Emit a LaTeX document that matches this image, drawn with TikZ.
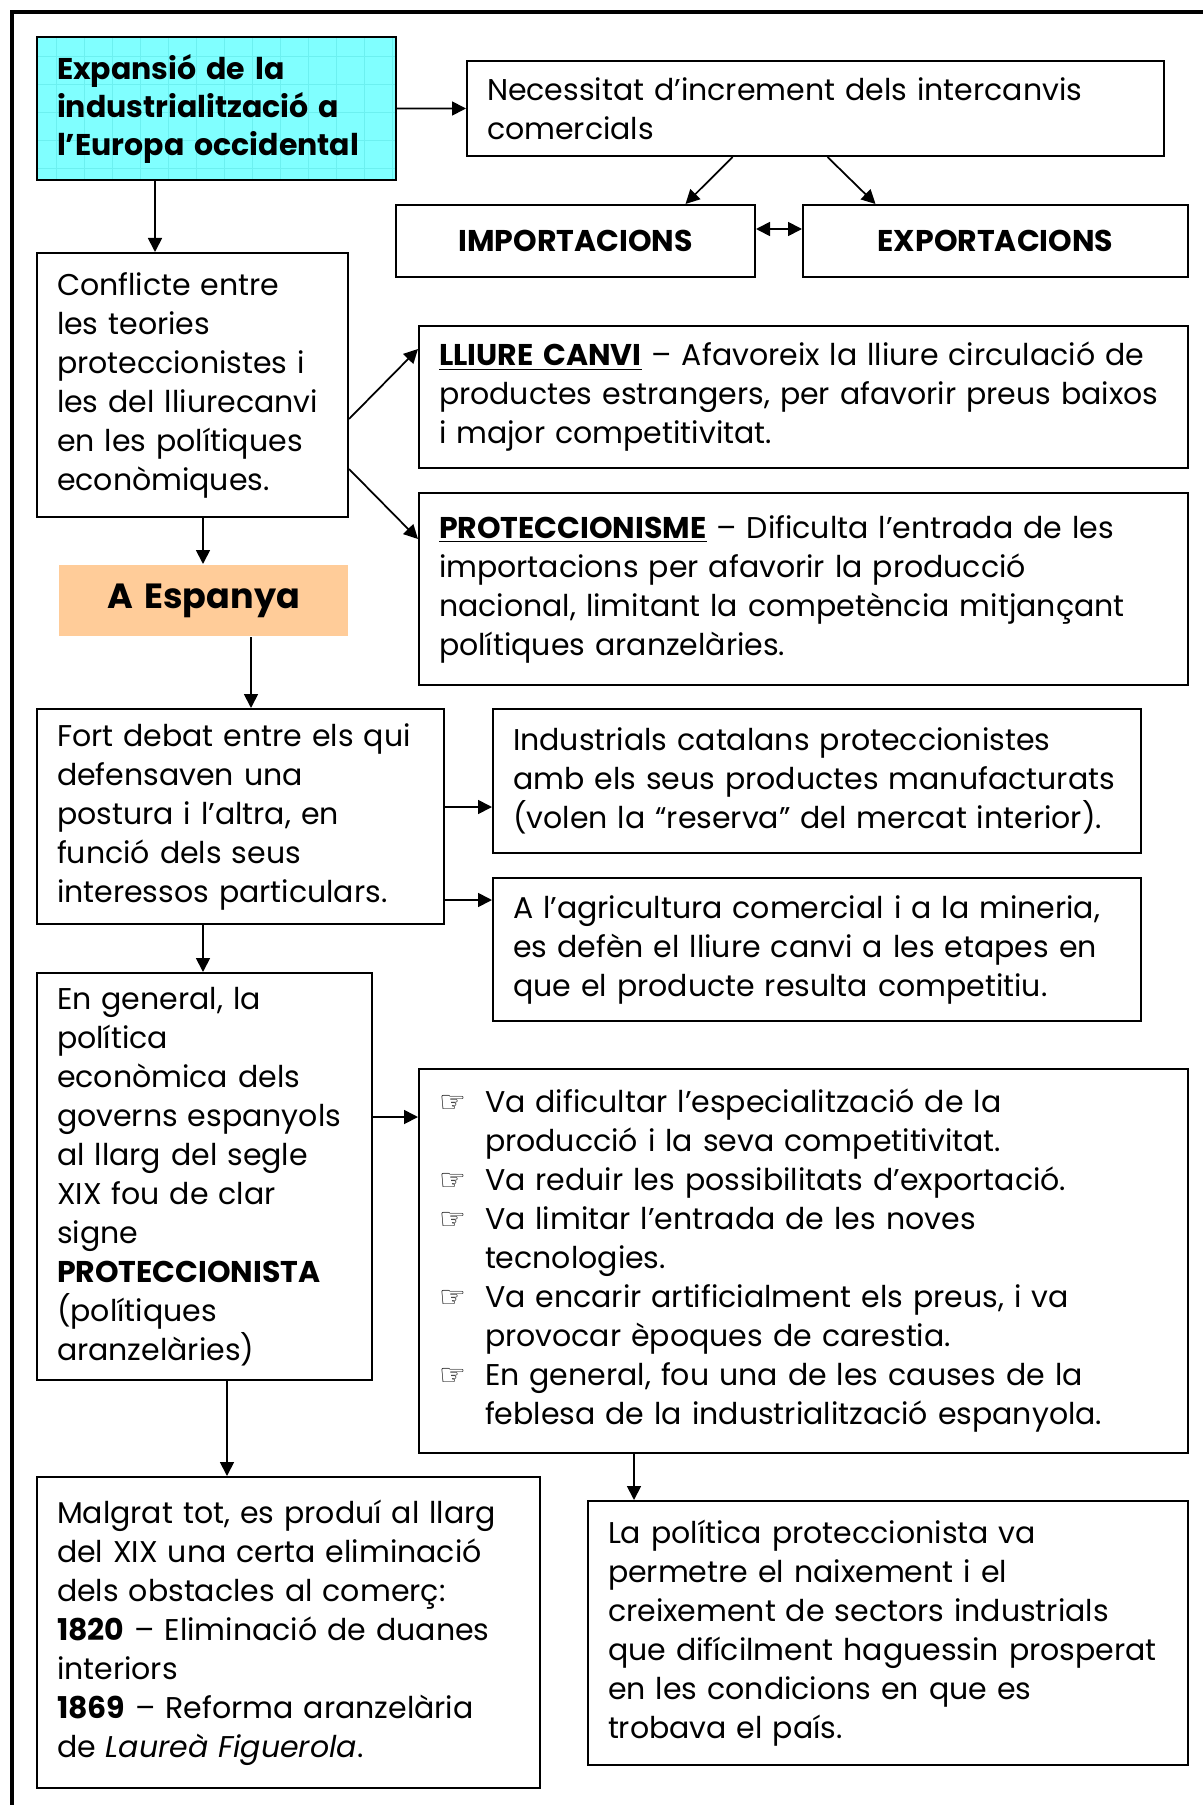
\documentclass[tikz,border=0pt]{standalone}
\usepackage{fontspec}
\setmainfont{Poppins}
\newfontfamily\symbfont{DejaVu Sans}
\usepackage{xcolor}
\usetikzlibrary{arrows.meta}

\definecolor{boxcyan}{HTML}{80FFFF}
\definecolor{gridcyan}{HTML}{6CF0F0}
\definecolor{boxorange}{HTML}{FFCC99}
\newcommand{\bxfont}{\fontsize{12}{15.6}\selectfont}
\newcommand{\hand}{\makebox[18.4pt][l]{\symbfont ☞}}
\newcommand{\handgap}{\hspace*{18.4pt}}

\tikzset{
  box/.style={draw, line width=0.8pt, anchor=north west, align=left, inner xsep=8pt, inner ysep=0pt, font=\bxfont},
  arr/.style={line width=0.7pt, -{Triangle[length=5.6pt,width=5.6pt]}},
  dblarr/.style={line width=0.7pt, {Triangle[length=5.6pt,width=5.6pt]}-{Triangle[length=5.6pt,width=5.6pt]}}
}

\begin{document}
\begin{tikzpicture}[x=0.4pt,y=-0.4pt]
\useasboundingbox (0,0) rectangle (1203,1805);

\draw[line width=1.6pt] (12,1805) -- (12,12) -- (1203,12);

\fill[boxcyan] (36,36) rectangle (395,179);
\draw[gridcyan, ultra thin, step=11.2pt] (36,36) grid (395,179);

\node[box, font=\fontsize{12}{15.2}\selectfont\bfseries, text width=127.6pt, minimum height=57.2pt] (expan) at (36,36)
{Expansió de la\\industrialització a\\l’Europa occidental};
\node[box, text width=262.8pt, minimum height=38pt] (nec) at (466,60)
{Necessitat d’increment dels intercanvis\\comercials};
\node[box, align=center, font=\bxfont\bfseries, text width=127.6pt, minimum height=28.8pt] (imp) at (395,204) {IMPORTACIONS};
\node[box, align=center, font=\bxfont\bfseries, text width=138pt, minimum height=28.8pt] (exp) at (802,204) {EXPORTACIONS};

\node[box, text width=108.4pt, minimum height=105.6pt] (cf) at (36,252)
{Conflicte entre\\les teories\\proteccionistes i\\les del lliurecanvi\\en les polítiques\\econòmiques.};
\node[box, draw=none, fill=boxorange, align=center, font=\fontsize{14}{16}\selectfont\bfseries, text width=99.6pt, minimum height=28.4pt] (esp) at (58,564) {A Espanya};

\node[box, text width=291.6pt, minimum height=56.8pt] (lc) at (418,325)
{\underline{\textbf{LLIURE CANVI}} – Afavoreix la lliure circulació de\\productes estrangers, per afavorir preus baixos\\i major competitivitat.};
\node[box, text width=291.6pt, minimum height=76.8pt] (pr) at (418,492)
{\underline{\textbf{PROTECCIONISME}} – Dificulta l’entrada de les\\importacions per afavorir la producció\\nacional, limitant la competència mitjançant\\polítiques aranzelàries.};

\node[box, text width=146.8pt, minimum height=86pt] (fd) at (36,708)
{Fort debat entre els qui\\defensaven una\\postura i l’altra, en\\funció dels seus\\interessos particulars.};
\node[box, text width=243.2pt, minimum height=57.6pt] (ind) at (492,708)
{Industrials catalans proteccionistes\\amb els seus productes manufacturats\\(volen la “reserva” del mercat interior).};
\node[box, text width=243.2pt, minimum height=57.2pt] (agr) at (492,877)
{A l’agricultura comercial i a la mineria,\\es defèn el lliure canvi a les etapes en\\que el producte resulta competitiu.};

\node[box, text width=118pt, minimum height=162.8pt] (eg) at (36,972)
{En general, la\\política\\econòmica dels\\governs espanyols\\al llarg del segle\\XIX fou de clar\\signe\\\textbf{PROTECCIONISTA}\\(polítiques\\aranzelàries)};
\node[box, text width=291.6pt, minimum height=153.6pt] (bl) at (418,1068)
{\hand Va dificultar l’especialització de la\\\handgap producció i la seva competitivitat.\\\hand Va reduir les possibilitats d’exportació.\\\hand Va limitar l’entrada de les noves\\\handgap tecnologies.\\\hand Va encarir artificialment els preus, i va\\\handgap provocar èpoques de carestia.\\\hand En general, fou una de les causes de la\\\handgap feblesa de la industrialització espanyola.};

\node[box, text width=185.2pt, minimum height=124.4pt] (mg) at (36,1476)
{Malgrat tot, es produí al llarg\\del XIX una certa eliminació\\dels obstacles al comerç:\\\textbf{1820} – Eliminació de duanes\\interiors\\\textbf{1869} – Reforma aranzelària\\de \textit{Laureà Figuerola}.};
\node[box, text width=224pt, minimum height=105.6pt] (lp) at (587,1500)
{La política proteccionista va\\permetre el naixement i el\\creixement de sectors industrials\\que difícilment haguessin prosperat\\en les condicions en que es\\trobava el país.};

\draw[arr] (expan.east) -- (nec.west);
\draw[arr] ([shift={(-83,0)}]nec.south) -- ([shift={(110,0)}]imp.north);
\draw[arr] ([shift={(12,0)}]nec.south) -- ([shift={(-120,0)}]exp.north);
\draw[dblarr] ([shift={(0,-12)}]imp.east) -- ([shift={(0,-12)}]exp.west);

\draw[arr] ([shift={(119,0)}]expan.south west) -- ([shift={(119,0)}]expan.south west |- cf.north);
\draw[arr] ([shift={(0,34)}]cf.east) -- ([shift={(0,-48)}]lc.west);
\draw[arr] ([shift={(0,84)}]cf.east) -- ([shift={(0,-50)}]pr.west);
\draw[arr] ([shift={(167,0)}]cf.south west) -- ([shift={(167,0)}]cf.south west |- esp.north);
\draw[arr] ([shift={(193,0)}]esp.south west) -- ([shift={(193,0)}]esp.south west |- fd.north);

\draw[arr] ([shift={(0,-9.5)}]fd.east) -- ([shift={(0,-9.5)}]fd.east -| ind.west);
\draw[arr] ([shift={(0,83.5)}]fd.east) -- ([shift={(0,83.5)}]fd.east -| agr.west);
\draw[arr] ([shift={(167,0)}]fd.south west) -- ([shift={(167,0)}]fd.south west |- eg.north);

\draw[arr] ([shift={(0,-59.5)}]eg.east) -- ([shift={(0,-59.5)}]eg.east -| bl.west);
\draw[arr] ([shift={(191,0)}]eg.south west) -- ([shift={(191,0)}]eg.south west |- mg.north);
\draw[arr] ([shift={(216,0)}]bl.south west) -- ([shift={(216,0)}]bl.south west |- lp.north);

\end{tikzpicture}
\end{document}
